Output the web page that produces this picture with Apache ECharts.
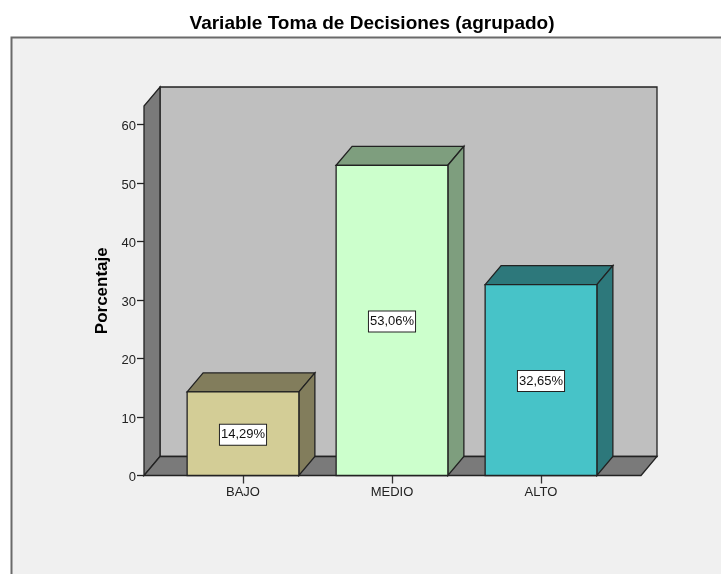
<!DOCTYPE html>
<html><head><meta charset="utf-8">
<style>html,body{margin:0;padding:0;background:#fff}#c{width:721px;height:574px}</style>
<script src="https://cdn.jsdelivr.net/npm/echarts@6/dist/echarts.min.js"></script>
</head><body><div id="c"></div>
<script>
const titleText = 'Variable Toma de Decisiones (agrupado)';
const yName = 'Porcentaje';
const categories = ['BAJO', 'MEDIO', 'ALTO'];
const values = [14.29, 53.06, 32.65];
const valueLabels = ['14,29%', '53,06%', '32,65%'];
const frontColors = ['#d3cd96', '#ccffcc', '#47c3c8'];
const sideColors = ['#827d5c', '#7e9e7e', '#2d787b'];
const yTicks = [0, 10, 20, 30, 40, 50, 60];
const yTop = 63.2;

const DX = 16, DY = -19, PADL = 24.5, PADR = 25.5, EDGE = '#222';
const font = '"Liberation Sans", Arial, sans-serif';
const chart = echarts.init(document.getElementById('c'), null, {renderer: 'canvas'});

function poly(points, fill, lw) {
  return {type: 'polygon', shape: {points}, style: {fill, stroke: EDGE, lineWidth: lw || 1.3, lineJoin: 'miter'}};
}
function renderWalls(params, api) {
  const g = params.coordSys;
  const l = g.x - PADL, r = g.x + g.width + PADR, t = g.y, b = g.y + g.height;
  return {type: 'group', children: [
    poly([[l + DX, t + DY], [r + DX, t + DY], [r + DX, b + DY], [l + DX, b + DY]], '#bfbfbf'),
    poly([[l, b], [l, t], [l + DX, t + DY], [l + DX, b + DY]], '#7a7a7a'),
    poly([[l, b], [r, b], [r + DX, b + DY], [l + DX, b + DY]], '#7a7a7a')
  ]};
}
function renderBar(params, api) {
  const i = api.value(0), v = api.value(1);
  const c = api.coord([i, v]), o = api.coord([i, 0]);
  const w = api.size([1, 0])[0] * 0.75;
  const l = c[0] - w / 2, r = c[0] + w / 2, t = c[1], b = o[1];
  return {type: 'group', children: [
    poly([[l, t], [l + DX, t + DY], [r + DX, t + DY], [r, t]], sideColors[i]),
    poly([[r, t], [r + DX, t + DY], [r + DX, b + DY], [r, b]], sideColors[i]),
    poly([[l, t], [r, t], [r, b], [l, b]], frontColors[i]),
    {type: 'text', x: c[0], y: (t + b) / 2 + 1, style: {
      text: valueLabels[i], fill: '#111', font: '13px ' + font,
      align: 'center', verticalAlign: 'middle',
      backgroundColor: '#fff', borderColor: '#222', borderWidth: 1,
      padding: [4, 1, 3, 1]
    }}
  ]};
}
chart.setOption({
  animation: false,
  backgroundColor: '#fff',
  title: {text: titleText, left: 367, top: 9, textAlign: 'center',
    textStyle: {fontFamily: font, fontWeight: 'bold', fontSize: 19, color: '#000'}},
  graphic: [{type: 'rect', silent: true, z: -10, shape: {x: 11.5, y: 37.5, width: 760, height: 600},
    style: {fill: '#f0f0f0', stroke: '#6a6a6a', lineWidth: 2}}],
  grid: {left: 168.5, right: 105.5, top: 106, bottom: 98.5},
  xAxis: {type: 'category', data: categories, z: 1,
    axisLine: {show: false},
    axisTick: {show: true, alignWithLabel: true, length: 8, lineStyle: {color: '#333', width: 1.3}},
    axisLabel: {color: '#222', fontFamily: font, fontSize: 13, margin: 10}},
  yAxis: {type: 'value', min: 0, max: yTop, offset: PADL, z: 1,
    name: yName, nameLocation: 'middle', nameGap: 32, nameRotate: 90,
    nameTextStyle: {fontFamily: font, fontWeight: 'bold', fontSize: 17, color: '#000'},
    splitLine: {show: false},
    axisLine: {show: false},
    axisTick: {show: true, length: 7, customValues: yTicks, lineStyle: {color: '#222', width: 1.3}},
    axisLabel: {color: '#222', fontFamily: font, fontSize: 13, margin: 8, customValues: yTicks, verticalAlign: 'top', lineHeight: 4}},
  series: [
    {type: 'custom', name: 'walls', z: 1, silent: true, renderItem: renderWalls, data: [[0, 0]], encode: {x: 0, y: 1}},
    {type: 'custom', name: 'Porcentaje', z: 3, renderItem: renderBar,
      data: values.map((v, i) => [i, v]), encode: {x: 0, y: 1}}
  ]
});
</script></body></html>
